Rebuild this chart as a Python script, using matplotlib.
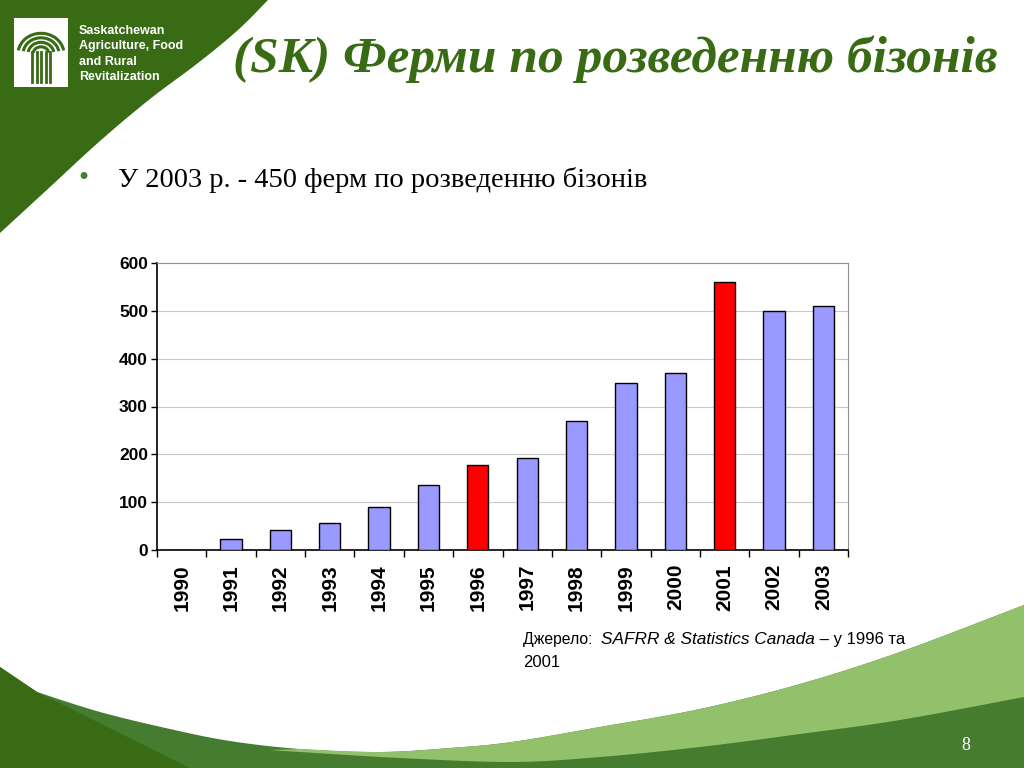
import numpy as np
import matplotlib
matplotlib.use('Agg')
import matplotlib.pyplot as plt
from matplotlib.patches import Polygon, Rectangle, Arc

# Chart data
years = ['1990', '1991', '1992', '1993', '1994', '1995', '1996',
         '1997', '1998', '1999', '2000', '2001', '2002', '2003']
farms = [0, 22, 41, 57, 90, 135, 177, 193, 270, 350, 369, 561, 500, 510]
census_years = ['1996', '2001']

title_text = '(SK) Ферми по розведенню бізонів'
bullet_text = 'У 2003 р. - 450 ферм по розведенню бізонів'
org_lines = ['Saskatchewan', 'Agriculture, Food', 'and Rural', 'Revitalization']

DARK = '#386b14'
MID = '#457c30'
LIGHT = '#93c06b'
W, H = 1024, 768


def px(x, y):
    # pixel coords (origin top-left) to figure fraction
    return (x / W, 1 - y / H)


def smooth(pts, n=12):
    # Catmull-Rom through the outline points, for the background swooshes
    p = np.array(pts, dtype=float)
    p = np.vstack([p[0], p, p[-1]])
    out = []
    for i in range(1, len(p) - 2):
        p0, p1, p2, p3 = p[i - 1], p[i], p[i + 1], p[i + 2]
        for t in np.linspace(0, 1, n, endpoint=False):
            out.append(0.5 * ((2 * p1) + (-p0 + p2) * t
                              + (2 * p0 - 5 * p1 + 4 * p2 - p3) * t ** 2
                              + (-p0 + 3 * p1 - 3 * p2 + p3) * t ** 3))
    out.append(p[-2])
    return [tuple(q) for q in out]


def shape(fig, pts, color, z=0):
    verts = [px(x, y) for x, y in pts]
    fig.add_artist(Polygon(verts, closed=True, facecolor=color, edgecolor='none',
                           transform=fig.transFigure, zorder=z))


fig = plt.figure(figsize=(10.24, 7.68), dpi=100)
fig.patch.set_facecolor('white')

# top-left green corner
corner_edge = [(268, 0), (238, 30), (198, 63), (150, 99), (100, 141),
               (50, 187), (0, 233)]
shape(fig, [(0, 0)] + smooth(corner_edge), DARK)

# bottom decoration outlines
white_edge = [(37, 692), (100, 712), (170, 729), (230, 741), (300, 749),
              (380, 752), (450, 748), (512, 742), (600, 727), (700, 709),
              (800, 684), (900, 652), (1024, 605)]
light_low = [(1024, 697), (900, 720), (800, 734), (700, 747), (600, 757),
             (512, 762), (400, 758), (300, 752), (270, 750)]
shape(fig, [(0, 667)] + smooth(white_edge) + [(1024, 768), (0, 768)], MID)
shape(fig, smooth([p for p in white_edge if p[0] >= 270]) + smooth(light_low), LIGHT)
shape(fig, [(0, 667), (37, 692), (190, 768), (0, 768)], DARK)

# logo: white square with a stylised sheaf
x0, y0 = px(14, 87)
fig.add_artist(Rectangle((x0, y0), 54 / W, 69 / H, facecolor='white',
                         edgecolor='none', transform=fig.transFigure))
for sx in [32, 36.5, 41, 45.5, 50]:
    fig.add_artist(plt.Line2D([sx / W, sx / W], [1 - 52 / H, 1 - 82 / H],
                              color=DARK, lw=2, transform=fig.transFigure))
cx, cy = px(41, 54)
for r in [8, 13, 18, 23]:
    fig.add_artist(Arc((cx, cy), 2 * r / W, 2 * r * 0.9 / H, theta1=12, theta2=168,
                       color=DARK, lw=2.2, transform=fig.transFigure))

for i, line in enumerate(org_lines):
    fig.text(79 / W, 1 - (31 + i * 15.3) / H, line, color='white',
             fontsize=9, fontweight='bold', family='Liberation Sans',
             va='center', ha='left')

# title and bullet
fig.text(233 / W, 1 - 72 / H, title_text, color=DARK, fontsize=37,
         fontweight='bold', fontstyle='italic', family='Liberation Serif',
         ha='left', va='baseline')
fig.text(78 / W, 1 - 186 / H, '•', color=MID, fontsize=21,
         family='Liberation Serif', ha='left', va='baseline')
fig.text(118 / W, 1 - 187 / H, bullet_text, color='black', fontsize=20.5,
         family='Liberation Serif', ha='left', va='baseline')

# bar chart
ax = fig.add_axes([157 / W, 1 - 550 / H, 691 / W, 287 / H])
xpos = np.arange(len(years))
colors = ['#ff0000' if y in census_years else '#9999ff' for y in years]
ax.bar(xpos, farms, width=0.43, color=colors, edgecolor='black', linewidth=1.0,
       zorder=3)
ax.set_xlim(-0.5, len(years) - 0.5)
ax.set_ylim(0, 600)
ax.set_yticks(range(0, 601, 100))
ax.set_yticklabels([str(v) for v in range(0, 601, 100)], fontsize=12.5,
                   fontweight='bold', family='Liberation Sans')
ax.set_xticks(xpos)
ax.set_xticklabels(years, rotation=90, fontsize=15, fontweight='bold',
                   family='Liberation Sans')
ax.tick_params(axis='x', length=0, pad=10)
ax.set_xticks(np.arange(-0.5, len(years), 1), minor=True)
ax.tick_params(axis='x', which='minor', length=5, width=1, direction='out')
ax.tick_params(axis='y', length=4, width=1, direction='out', pad=2.5)
ax.grid(axis='y', color='#c8c8c8', linewidth=0.8, zorder=0)
ax.spines['top'].set_color('#909090')
ax.spines['right'].set_color('#909090')
ax.spines['left'].set_linewidth(1.2)
ax.spines['bottom'].set_linewidth(1.2)
ax.set_facecolor('none')

# source note with mixed styles
t1 = fig.text(523 / W, 1 - 644 / H, 'Джерело:  ', fontsize=11.3,
              family='Liberation Sans', ha='left', va='baseline')
t2 = ax.annotate('SAFRR & Statistics Canada', xy=(1, 0), xycoords=t1,
                 fontsize=12.4, fontstyle='italic', family='Liberation Sans',
                 ha='left', va='bottom', annotation_clip=False)
t3 = ax.annotate(' – у 1996 та', xy=(1, 0), xycoords=t2, fontsize=12,
                 family='Liberation Sans', ha='left', va='bottom',
                 annotation_clip=False)
fig.text(523 / W, 1 - 667 / H, '2001', fontsize=12, family='Liberation Sans',
         ha='left', va='baseline')

fig.text(966 / W, 1 - 750 / H, '8', color='white', fontsize=13,
         family='Liberation Serif', ha='center', va='baseline')

fig.savefig('out.png', dpi=100)
